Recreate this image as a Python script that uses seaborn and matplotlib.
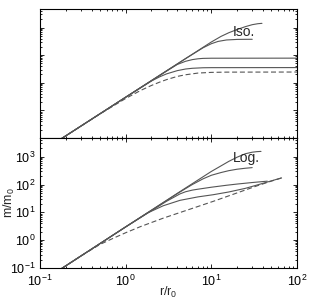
import numpy as np
import pandas as pd
import matplotlib
matplotlib.use("Agg")
import matplotlib.pyplot as plt
import seaborn as sns

# ---------------- data ----------------
# Upper panel: "Iso."
iso_a_r = [0.18, 1, 5, 10, 13, 16, 20, 25, 30, 35, 39]
iso_a_m = [0.097, 3, 75, 300, 480, 650, 850, 1080, 1270, 1380, 1420]
iso_b_r = [0.18, 1, 5, 8, 10, 12, 15, 20, 25, 30]
iso_b_m = [0.097, 3, 75, 185, 260, 315, 355, 372, 375, 376]
iso_c_r = [0.18, 1, 3, 4, 5, 6, 7, 8, 10, 100]
iso_c_m = [0.097, 3, 26.5, 46, 60, 69, 74, 76.5, 77.5, 78]
iso_d_r = [0.18, 1, 2, 2.5, 3, 4, 5, 6, 8, 10, 100]
iso_d_m = [0.097, 3, 11.6, 16.5, 21, 27.5, 31.5, 33.5, 35, 35.3, 35.5]
iso_e_r = [0.18, 0.5, 1, 1.5, 2, 2.5, 3, 4, 5, 7, 10, 15, 100]
iso_e_m = [0.097, 0.74, 2.7, 5.3, 8.0, 10.6, 13, 17, 19.5, 22.5, 23.8, 24.3, 24.5]

# Lower panel: "Log."
log_a_r = [0.18, 1, 5, 10, 13, 16, 20, 25, 30, 34, 38]
log_a_m = [0.097, 3, 75, 295, 470, 680, 960, 1280, 1450, 1520, 1550]
log_b_r = [0.18, 1, 4, 6, 8, 10, 13, 16, 20, 25, 30]
log_b_m = [0.097, 3, 47, 100, 160, 215, 270, 315, 355, 385, 405]
log_c_r = [0.18, 1, 3, 4.3, 5, 6, 7, 10, 15, 20, 30, 45]
log_c_m = [0.097, 3, 25, 46, 55, 63, 68, 80, 94, 104, 118, 132]
log_d_r = [0.18, 1, 1.8, 2.75, 4.3, 7, 10.5, 16, 25, 35, 50, 66]
log_d_m = [0.097, 3, 9.5, 17.3, 27, 36, 43, 54, 73, 98, 135, 173]
log_e_r = [0.18, 0.3, 0.5, 0.72, 1, 1.5, 2.75, 5, 10.5, 20, 35, 50, 66]
log_e_m = [0.097, 0.27, 0.7, 1.18, 1.85, 3.1, 6.2, 11.5, 24.8, 50, 92, 132, 172]

x_ticks = [0.1, 1, 10, 100]
x_tick_labels = [r"$10^{-1}$", r"$10^{0}$", r"$10^{1}$", r"$10^{2}$"]
y_ticks = [0.1, 1, 10, 100, 1000]
y_tick_labels = [r"$10^{-1}$", r"$10^{0}$", r"$10^{1}$", r"$10^{2}$", r"$10^{3}$"]
panel_labels = ["Iso.", "Log."]

# ---------------- style ----------------
sns.set_style("ticks")
plt.rcParams["font.family"] = ["Liberation Sans", "DejaVu Sans"]
plt.rcParams["mathtext.fontset"] = "custom"
plt.rcParams["mathtext.rm"] = "Liberation Sans"
plt.rcParams["mathtext.it"] = "Liberation Sans:italic"
plt.rcParams["mathtext.bf"] = "Liberation Sans:bold"

fig = plt.figure(figsize=(3.09, 3.01), dpi=100)
left, width = 40 / 309, 257 / 309
ax_top = fig.add_axes([left, 1 - 138 / 301, width, 129 / 301])
ax_bot = fig.add_axes([left, 1 - 268 / 301, width, 130 / 301])

line_col = "#555555"
lw = 0.8

def draw(ax, curves):
    for (r, m, dashed) in curves:
        df = pd.DataFrame({"r": r, "m": m})
        sns.lineplot(data=df, x="r", y="m", ax=ax, color=line_col, lw=lw,
                     estimator=None, sort=False)
        if dashed:
            ax.lines[-1].set_dashes((4.5, 2.5))

draw(ax_top, [(iso_a_r, iso_a_m, False), (iso_b_r, iso_b_m, False),
              (iso_c_r, iso_c_m, False), (iso_d_r, iso_d_m, False),
              (iso_e_r, iso_e_m, True)])
draw(ax_bot, [(log_a_r, log_a_m, False), (log_b_r, log_b_m, False),
              (log_c_r, log_c_m, False), (log_d_r, log_d_m, False),
              (log_e_r, log_e_m, True)])

for ax in (ax_top, ax_bot):
    ax.set_xscale("log")
    ax.set_yscale("log")
    ax.set_xlim(0.1, 100)
    ax.set_ylim(0.1, 4700)
    ax.set_xticks(x_ticks)
    ax.set_yticks(y_ticks)
    ax.tick_params(which="both", direction="in", top=True, right=True,
                   width=0.6, colors="black", labelsize=9, pad=3)
    ax.tick_params(axis="x", which="both", pad=4.5)
    ax.tick_params(which="major", length=3)
    ax.tick_params(which="minor", length=1.6)
    for s in ax.spines.values():
        s.set_linewidth(0.8)
        s.set_color("black")
    ax.set_xlabel("")
    ax.set_ylabel("")

ax_top.set_xticklabels([])
ax_top.set_yticklabels([])
ax_top.xaxis.set_minor_formatter(matplotlib.ticker.NullFormatter())
ax_top.yaxis.set_minor_formatter(matplotlib.ticker.NullFormatter())
ax_bot.set_xticklabels(x_tick_labels)
ax_bot.set_yticklabels(y_tick_labels)
ax_bot.xaxis.set_minor_formatter(matplotlib.ticker.NullFormatter())
ax_bot.yaxis.set_minor_formatter(matplotlib.ticker.NullFormatter())

ax_top.text(17.9, 680, panel_labels[0], fontsize=10, ha="left", va="center")
ax_bot.text(17.9, 900, panel_labels[1], fontsize=10, ha="left", va="center")

ax_bot.set_xlabel(r"r/r$_0$", fontsize=9)
ax_bot.set_ylabel(r"m/m$_0$", fontsize=9)
ax_bot.xaxis.set_label_coords(0.5, -0.13)
ax_bot.yaxis.set_label_coords(-0.09, 0.5)

fig.savefig("out.png", dpi=100)
